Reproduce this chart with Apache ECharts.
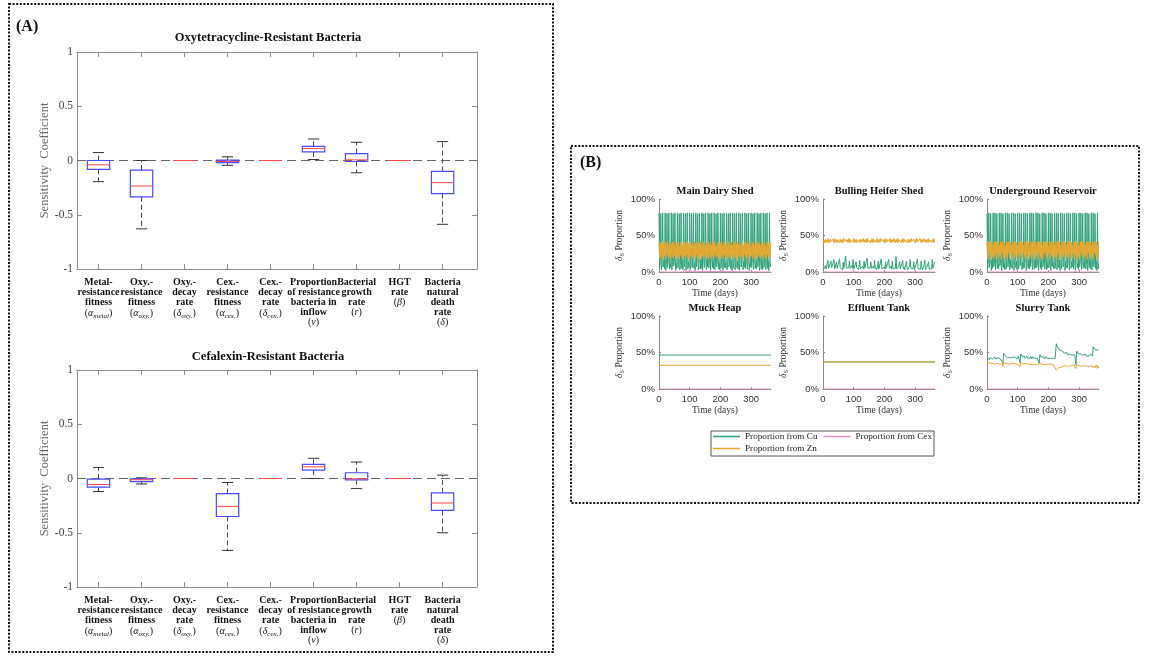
<!DOCTYPE html>
<html>
<head>
<meta charset="utf-8">
<script src="https://cdn.jsdelivr.net/npm/echarts@6/dist/echarts.min.js"></script>
<style>
  html, body { margin: 0; padding: 0; background: #fff; }
  #chart { width: 1153px; height: 657px; }
</style>
</head>
<body>
<div id="chart"></div>
<script>
const SERIF = 'Liberation Serif';
const SANS = 'Liberation Sans';
const FRAME_GREY = '#8c8c8c';
const CU_GREEN = '#33a27b';
const ZN_ORANGE = '#e8a82f';
const CEX_PINK = '#e08cc4';

// ---------- Panel A: sensitivity coefficients per model parameter ----------
// Each label: bold text lines, then [symbol, subscript]
const paramLabels = [
  ['Metal-', 'resistance', 'fitness', ['α', 'metal']],
  ['Oxy.-', 'resistance', 'fitness', ['α', 'oxy.']],
  ['Oxy.-', 'decay', 'rate', ['δ', 'oxy.']],
  ['Cex.-', 'resistance', 'fitness', ['α', 'cex.']],
  ['Cex.-', 'decay', 'rate', ['δ', 'cex.']],
  ['Proportion', 'of resistance', 'bacteria in', 'inflow', ['ν', '']],
  ['Bacterial', 'growth', 'rate', ['r', '']],
  ['HGT', 'rate', ['β', '']],
  ['Bacteria', 'natural', 'death', 'rate', ['δ', '']]
];

// rows: [lower whisker, Q1, median, Q3, upper whisker]
const oxyStats = [
  [-0.195, -0.082, -0.040,  0.000, 0.073],
  [-0.630, -0.335, -0.235, -0.088, 0.000],
  [ 0.000,  0.000,  0.000,  0.000, 0.000],
  [-0.045, -0.020, -0.010,  0.003, 0.034],
  [ 0.000,  0.000,  0.000,  0.000, 0.000],
  [ 0.009,  0.079,  0.110,  0.131, 0.198],
  [-0.113, -0.009,  0.006,  0.064, 0.168],
  [ 0.000,  0.000,  0.000,  0.000, 0.000],
  [-0.588, -0.305, -0.204, -0.100, 0.174]
];
const cexStats = [
  [-0.120, -0.080, -0.056, -0.006,  0.102],
  [-0.050, -0.028, -0.012, -0.003,  0.006],
  [ 0.000,  0.000,  0.000,  0.000,  0.000],
  [-0.663, -0.350, -0.257, -0.139, -0.037],
  [ 0.000,  0.000,  0.000,  0.000,  0.000],
  [ 0.000,  0.077,  0.108,  0.130,  0.186],
  [-0.093, -0.012, -0.003,  0.053,  0.152],
  [ 0.000,  0.000,  0.000,  0.000,  0.000],
  [-0.500, -0.294, -0.226, -0.133,  0.031]
];

// ---------- Panel B: proportion of δS by source, per farm location ----------
const SAMPLE_STEP = 2; // days between stored samples of the dense series

const dairyCu = [
  81,5,14, 80,3,12, 81,7,16,4, 81,2,13, 80,6,15, 81,4,11,6, 81,3,14, 80,8,16, 81,2,12,5,
  81,6,15, 80,3,13, 81,5,16,3, 81,7,12, 80,2,15, 81,4,14,6, 81,3,11, 80,6,16, 81,5,13,2,
  81,7,15, 80,3,12, 81,4,16,5, 81,2,14, 80,6,13, 81,3,15,7, 81,5,12, 80,2,16, 81,6,14,4,
  81,3,13, 80,7,15, 81,4,12,3, 81,5,16, 80,2,14, 81,6,13,5, 81,3,15, 80,7,12, 81,4,16,2,
  81,5,14, 80,3,13, 81,6,15,4, 81,2,12, 80,7,16, 81,3,14,6, 81,5,13, 80,4,15, 81,2,12,7,
  81,6,16, 80,3,14, 81,5,13,4, 81,7,15, 80,2,12, 81,4,16,3, 81,6,14, 80,3,13, 81,5,15,2,
  81,7,12
];
const dairyZn = [
  40,20,41,18,38,23,42,19,37,22,41,17,39,24,42,20,36,21,40,18,
  38,23,41,19,42,22,37,18,40,24,39,20,41,17,36,23,42,21,38,19,
  40,22,41,18,37,24,42,20,39,17,41,23,38,21,40,19,36,22,42,18,
  39,24,41,20,37,17,40,23,42,19,38,22,41,18,39,21,36,24,40,20,
  42,17,38,23,41,19,37,22,40,18,42,24,39,20,36,21,41,17,38,23,
  40,19,42,22,37,18,41,24,39,20,40,17,36,23,42,21,38,19,41,22,
  37,18,40,24,42,20,39,17,41,23,38,21,36,19,40,22,42,18,37,24,
  41,20,39,17,40,23,38,21,42,19,36,22,41,18,39,24,37,20,40,17,
  42,23,38,21,41,19,37,22,40,18,39,24,42,20,36,17,41,23,38,21,
  40,19,42
];
const dairyCexDays = [0, 80, 84, 86, 90, 365];
const dairyCex = [0, 0, 4, 1, 0, 0];

const heiferCu = [
  2,3,5,4,9,4,6,3,16,5,4,7,3,15,6,4,8,5,17,4,
  6,3,14,5,7,4,3,18,6,5,4,8,3,13,5,6,4,22,5,3,
  7,4,6,15,5,4,3,9,5,17,4,6,3,5,14,6,4,7,3,5,
  16,4,6,5,3,8,4,15,5,3,6,4,19,5,7,3,4,6,14,5,
  4,3,8,5,16,6,4,3,5,7,15,4,6,3,5,18,4,6,5,3,
  7,4,14,5,6,3,4,17,5,3,6,8,4,15,5,3,6,4,5,21,
  4,6,3,7,5,14,4,3,6,5,16,4,7,3,5,4,15,6,3,5,
  4,8,17,5,3,6,4,5,14,3,6,4,7,5,18,4,3,6,5,4,
  15,6,3,4,7,5,16,3,4,6,5,8,14,4,3,6,5,4,17,5,
  4,6,14
];
const heiferZn = [
  38,41,44,40,45,41,44,40,46,41,44,40,45,42,44,40,45,41,46,40,
  44,41,45,40,44,42,46,40,45,41,44,40,45,41,46,42,44,40,45,41,
  44,40,46,41,45,40,44,42,45,41,46,40,44,41,45,40,44,42,46,41,
  45,40,44,41,45,42,46,40,44,41,45,40,46,41,44,42,45,40,44,41,
  46,40,45,41,44,42,45,40,46,41,44,40,45,41,46,42,44,40,45,41,
  44,40,46,41,45,42,44,40,45,41,46,40,44,41,45,42,46,40,44,41,
  45,40,46,41,44,42,45,40,44,41,46,40,45,41,44,42,46,40,45,41,
  44,40,45,41,46,42,44,40,45,41,44,40,46,41,45,42,44,40,46,41,
  45,40,44,41,46,42,45,40,44,41,45,40,46,41,44,42,45,40,44,41,
  46,40,45
];

const reservoirCu = [
  79,4,15, 81,6,12, 80,2,16,5, 81,7,13, 81,3,15, 80,5,11,4, 81,8,14, 81,2,16, 80,6,12,3,
  81,4,15, 81,7,13, 80,3,16,6, 81,5,12, 81,2,14, 80,6,15,3, 81,4,11, 81,8,16, 80,3,13,5,
  81,6,15, 81,2,12, 80,5,16,4, 81,7,14, 81,3,13, 80,4,15,6, 81,6,12, 81,2,16, 80,5,14,3,
  81,7,13, 81,4,15, 80,3,12,5, 81,6,16, 81,2,14, 80,7,13,4, 81,5,15, 81,3,12, 80,6,16,2,
  81,4,14, 81,7,13, 80,2,15,5, 81,6,12, 81,3,16, 80,5,14,7, 81,4,13, 81,2,15, 80,6,12,3,
  81,7,16, 81,3,14, 80,5,13,6, 81,4,15, 81,2,12, 80,6,16,4, 81,3,14, 81,7,13, 80,5,15,2,
  81,4,12
];
const reservoirZn = [
  41,19,42,23,41,17,42,26,41,21,37,19,42,23,41,17,42,26,41,21,
  37,23,42,17,41,26,42,19,41,23,36,21,42,17,41,26,42,19,41,23,
  37,17,42,26,41,19,42,23,41,21,36,26,42,17,41,23,42,19,41,26,
  37,21,42,17,41,23,42,26,41,19,36,23,42,17,41,21,42,26,41,19,
  37,23,42,17,41,26,42,21,41,19,37,17,42,23,41,26,42,19,41,21,
  36,26,42,17,41,23,42,19,41,26,37,21,42,17,41,23,42,26,41,19,
  37,17,42,23,41,21,42,26,41,19,36,23,42,17,41,26,42,21,41,19,
  37,26,42,17,41,23,42,19,41,21,36,17,42,26,41,23,42,19,41,21,
  37,23,42,17,41,26,42,19,41,23,36,21,42,17,41,26,42,23,41,19,
  37,21,41
];

const slurryCu = [
  43,41,44,42,40,43,41,44,42,41,43,40,42,44,41,43,42,40,43,41,44,42,41,43,42,40,
  35,49,47,46,45,44,45,43,44,42,45,43,41,44,42,43,45,42,41,44,43,42,44,41,43,45,42,44,
  36,48,46,45,44,46,43,45,42,44,43,45,42,41,44,43,42,45,43,41,44,42,43,45,42,44,41,43,42,44,43,
  35,47,45,44,43,45,42,44,43,41,44,42,43,45,42,41,44,43,42,44,41,43,42,44,43,41,42,43,
  62,59,57,56,54,55,53,52,53,51,52,50,51,49,50,49,48,50,47,49,48,47,48,46,48,47,46,48,47,46,47,48,
  33,52,50,49,48,49,47,48,46,47,48,46,47,45,46,48,47,45,46,47,46,45,47,46,48,46,47,45,
  58,57,55,56,54,57,53,55,52,54
];
const slurryZn = [
  36,35,36,35,36,35,35,36,35,35,36,35,35,34,35,35,36,35,34,35,35,34,35,35,34,35,
  31,36,35,35,34,35,35,34,35,34,35,35,34,34,35,34,35,34,34,35,34,34,35,34,34,35,34,34,
  31,36,35,34,35,34,34,35,34,34,35,34,34,33,34,34,35,34,34,33,34,34,33,34,34,33,34,34,33,34,34,
  31,35,34,34,33,34,34,33,34,33,34,34,33,33,34,33,34,33,33,34,33,33,34,33,33,34,33,33,
  26,27,28,28,29,29,30,29,30,30,31,30,31,31,30,31,32,31,31,32,31,32,32,31,32,32,33,32,32,33,32,33,
  28,33,32,32,31,32,32,31,32,32,31,32,32,31,32,31,32,32,31,32,31,32,31,32,32,31,32,31,
  29,31,28,32,29,30,33,28,31,29
];

// steady-state locations: value held over the whole year
const flatDays = [0, 365];
const muckCu = [46.5, 46.5];
const muckZn = [32.5, 32.5];
const effluentCu = [37.0, 37.0];
const effluentZn = [37.2, 37.2];
const zeroCex = [0, 0];

// ---------- helpers ----------
const sampled = vals => vals.map((v, i) => [i * SAMPLE_STEP, v]);
const paired = (days, vals) => days.map((d, i) => [d, vals[i]]);

const PARAM_POS = paramLabels.map((_, i) => i + 1);

function paramLabel(v) {
  const lines = paramLabels[Math.round(v) - 1];
  if (!lines) return '';
  return lines.map(l => {
    if (Array.isArray(l)) {
      return '{p|(}{g|' + l[0] + '}' + (l[1] ? '{s|' + l[1] + '}' : '') + '{p|)}';
    }
    return '{b|' + l + '}';
  }).join('\n');
}

const LABEL_RICH = {
  b: { fontFamily: SERIF, fontWeight: 'bold', fontSize: 10, lineHeight: 10, color: '#111' },
  p: { fontFamily: SERIF, fontSize: 10, lineHeight: 10, color: '#111' },
  g: { fontFamily: SERIF, fontStyle: 'italic', fontSize: 10, lineHeight: 10, color: '#111' },
  s: { fontFamily: SERIF, fontStyle: 'italic', fontSize: 7, lineHeight: 13, verticalAlign: 'bottom', color: '#111' }
};

function renderBox(params, api) {
  const x = api.value(0);
  const lo = api.value(1), q1 = api.value(2), md = api.value(3), q3 = api.value(4), hi = api.value(5);
  const unit = api.size([1, 0])[0];
  const hw = unit * 0.26, cw = unit * 0.13;
  const cx = api.coord([x, md])[0];
  const y = v => api.coord([x, v])[1];
  const whisker = { stroke: '#444', lineWidth: 1, lineDash: [5, 3], fill: null };
  const cap = { stroke: '#333', lineWidth: 1, fill: null };
  return {
    type: 'group',
    children: [
      { type: 'line', shape: { x1: cx, y1: y(q3), x2: cx, y2: y(hi) }, style: whisker },
      { type: 'line', shape: { x1: cx, y1: y(q1), x2: cx, y2: y(lo) }, style: whisker },
      { type: 'line', shape: { x1: cx - cw, y1: y(hi), x2: cx + cw, y2: y(hi) }, style: cap },
      { type: 'line', shape: { x1: cx - cw, y1: y(lo), x2: cx + cw, y2: y(lo) }, style: cap },
      { type: 'rect', shape: { x: cx - hw, y: y(q3), width: 2 * hw, height: y(q1) - y(q3) },
        style: { stroke: '#4a4aff', lineWidth: 1.2, fill: null } },
      { type: 'line', shape: { x1: cx - hw, y1: y(md), x2: cx + hw, y2: y(md) },
        style: { stroke: '#ff4646', lineWidth: 1, fill: null } }
    ]
  };
}

const grids = [], xAxes = [], yAxes = [], series = [], graphics = [];

// ---------- Panel A layout ----------
const sensPlots = [
  { top: 52, title: 'Oxytetracycline-Resistant Bacteria', titleY: 38, stats: oxyStats },
  { top: 370, title: 'Cefalexin-Resistant Bacteria', titleY: 357, stats: cexStats }
];

sensPlots.forEach(p => {
  const gi = grids.length;
  grids.push({ left: 77, top: p.top, width: 400, height: 217 });
  const frameLine = { show: true, onZero: false, lineStyle: { color: FRAME_GREY, width: 1 } };
  const xBase = {
    gridIndex: gi, type: 'value', min: 0.5, max: 9.8,
    splitLine: { show: false }, axisLine: frameLine,
    axisTick: { show: true, inside: true, length: 5, customValues: PARAM_POS, lineStyle: { color: FRAME_GREY } }
  };
  const xi = xAxes.length;
  xAxes.push(Object.assign({}, xBase, {
    position: 'bottom',
    axisLabel: { show: true, customValues: PARAM_POS, margin: 8, formatter: paramLabel, rich: LABEL_RICH }
  }));
  xAxes.push(Object.assign({}, xBase, { position: 'top', axisLabel: { show: false } }));
  const yBase = {
    gridIndex: gi, type: 'value', min: -1, max: 1, interval: 0.5,
    splitLine: { show: false }, axisLine: frameLine,
    axisTick: { show: true, inside: true, length: 5, lineStyle: { color: FRAME_GREY } }
  };
  const yi = yAxes.length;
  yAxes.push(Object.assign({}, yBase, {
    position: 'left',
    axisLabel: { margin: 4, color: '#444', fontFamily: SERIF, fontSize: 11.5 },
    name: 'Sensitivity  Coefficient', nameLocation: 'middle', nameGap: 26,
    nameTextStyle: { fontFamily: SERIF, fontSize: 12.5, color: '#6a6a6a' }
  }));
  yAxes.push(Object.assign({}, yBase, { position: 'right', axisLabel: { show: false } }));

  series.push({
    type: 'custom',
    xAxisIndex: xi, yAxisIndex: yi,
    renderItem: renderBox,
    encode: { x: 0, y: [1, 2, 3, 4, 5] },
    data: p.stats.map((s, i) => [i + 1].concat(s)),
    silent: true,
    z: 3,
    markLine: {
      silent: true, symbol: 'none', label: { show: false },
      lineStyle: { color: '#666', width: 1, type: [9, 5] },
      data: [{ yAxis: 0 }],
      z: 2
    }
  });

  graphics.push({
    type: 'text', x: 268, y: p.titleY,
    style: { text: p.title, font: 'bold 12.5px ' + SERIF, fill: '#111',
      align: 'center', verticalAlign: 'middle', textAlign: 'center', textVerticalAlign: 'middle' }
  });
});

// ---------- Panel B layout ----------
const farmPlots = [
  { title: 'Main Dairy Shed', left: 659, top: 199,
    cu: sampled(dairyCu), zn: sampled(dairyZn), cex: paired(dairyCexDays, dairyCex) },
  { title: 'Bulling Heifer Shed', left: 823, top: 199,
    cu: sampled(heiferCu), zn: sampled(heiferZn), cex: paired(flatDays, zeroCex) },
  { title: 'Underground Reservoir', left: 987, top: 199,
    cu: sampled(reservoirCu), zn: sampled(reservoirZn), cex: paired(flatDays, zeroCex) },
  { title: 'Muck Heap', left: 659, top: 316,
    cu: paired(flatDays, muckCu), zn: paired(flatDays, muckZn), cex: paired(flatDays, zeroCex) },
  { title: 'Effluent Tank', left: 823, top: 316,
    cu: paired(flatDays, effluentCu), zn: paired(flatDays, effluentZn), cex: paired(flatDays, zeroCex) },
  { title: 'Slurry Tank', left: 987, top: 316,
    cu: sampled(slurryCu), zn: sampled(slurryZn), cex: paired(flatDays, zeroCex) }
];
const FARM_W = 112, FARM_H = 73;
const sourceSeries = [
  { key: 'cu', name: 'Proportion from Cu', color: CU_GREEN },
  { key: 'zn', name: 'Proportion from Zn', color: ZN_ORANGE },
  { key: 'cex', name: 'Proportion from Cex', color: CEX_PINK }
];

farmPlots.forEach(p => {
  const gi = grids.length;
  grids.push({ left: p.left, top: p.top, width: FARM_W, height: FARM_H });
  const axisLine = { show: true, onZero: false, lineStyle: { color: '#8a8a8a', width: 1 } };
  const xi = xAxes.length, yi = yAxes.length;
  xAxes.push({
    gridIndex: gi, type: 'value', min: 0, max: 365, interval: 100,
    splitLine: { show: false }, axisLine,
    axisTick: { show: true, inside: true, length: 2, lineStyle: { color: '#8a8a8a' } },
    axisLabel: { fontFamily: SANS, fontSize: 9.5, color: '#333', margin: 5, showMaxLabel: false },
    name: 'Time (days)', nameLocation: 'middle', nameGap: 16,
    nameTextStyle: { fontFamily: SERIF, fontSize: 9.5, color: '#333' }
  });
  yAxes.push({
    gridIndex: gi, type: 'value', min: 0, max: 100, interval: 50,
    splitLine: { show: false }, axisLine,
    axisTick: { show: true, inside: true, length: 2, lineStyle: { color: '#8a8a8a' } },
    axisLabel: { fontFamily: SANS, fontSize: 9.5, color: '#333', margin: 4, formatter: '{value}%' },
    name: '{d|δ}{s|S}{n| Proportion}', nameLocation: 'middle', nameGap: 33,
    nameTextStyle: {
      fontFamily: SERIF, fontSize: 9.5, color: '#333',
      rich: {
        d: { fontFamily: SERIF, fontStyle: 'italic', fontSize: 9.5, color: '#333' },
        s: { fontFamily: SERIF, fontSize: 6.5, lineHeight: 13, verticalAlign: 'bottom', color: '#333' },
        n: { fontFamily: SERIF, fontSize: 9.5, color: '#333' }
      }
    }
  });
  sourceSeries.forEach(s => {
    series.push({
      type: 'line', name: s.name, xAxisIndex: xi, yAxisIndex: yi,
      data: p[s.key], symbol: 'none', showSymbol: false, silent: true,
      lineStyle: { width: 1, color: s.color }, itemStyle: { color: s.color }
    });
  });
  graphics.push({
    type: 'text', x: p.left + FARM_W / 2, y: p.top - 8,
    style: { text: p.title, font: 'bold 10.5px ' + SERIF, fill: '#111',
      align: 'center', verticalAlign: 'middle', textAlign: 'center', textVerticalAlign: 'middle' }
  });
});

// panel frames, panel letters and legend frame
graphics.push(
  { type: 'rect', shape: { x: 9, y: 4, width: 544, height: 648 },
    style: { fill: null, stroke: '#111', lineWidth: 2, lineDash: [2, 1.6] }, z: 0 },
  { type: 'rect', shape: { x: 571, y: 146, width: 568, height: 357 },
    style: { fill: null, stroke: '#111', lineWidth: 2, lineDash: [2, 1.6] }, z: 0 },
  { type: 'rect', shape: { x: 711, y: 431, width: 223, height: 25 },
    style: { fill: null, stroke: '#555', lineWidth: 1 } },
  { type: 'text', x: 16, y: 27,
    style: { text: '(A)', font: 'bold 16px ' + SERIF, fill: '#111',
      align: 'left', verticalAlign: 'middle', textAlign: 'left', textVerticalAlign: 'middle' } },
  { type: 'text', x: 580, y: 163,
    style: { text: '(B)', font: 'bold 16px ' + SERIF, fill: '#111',
      align: 'left', verticalAlign: 'middle', textAlign: 'left', textVerticalAlign: 'middle' } }
);

const legendText = { fontFamily: SERIF, fontSize: 9.2, color: '#222' };
const legendBase = {
  padding: 0, icon: 'rect', itemWidth: 27, itemHeight: 1.5, itemGap: 6,
  textStyle: legendText, selectedMode: false
};
const option = {
  animation: false,
  backgroundColor: '#fff',
  grid: grids,
  xAxis: xAxes,
  yAxis: yAxes,
  series: series,
  graphic: { elements: graphics },
  legend: [
    Object.assign({ data: ['Proportion from Cu', 'Proportion from Cex'], left: 713, top: 432 }, legendBase),
    Object.assign({ data: ['Proportion from Zn'], left: 713, top: 444 }, legendBase)
  ]
};

const chart = echarts.init(document.getElementById('chart'), null, { renderer: 'canvas' });
chart.setOption(option);
</script>
</body>
</html>
